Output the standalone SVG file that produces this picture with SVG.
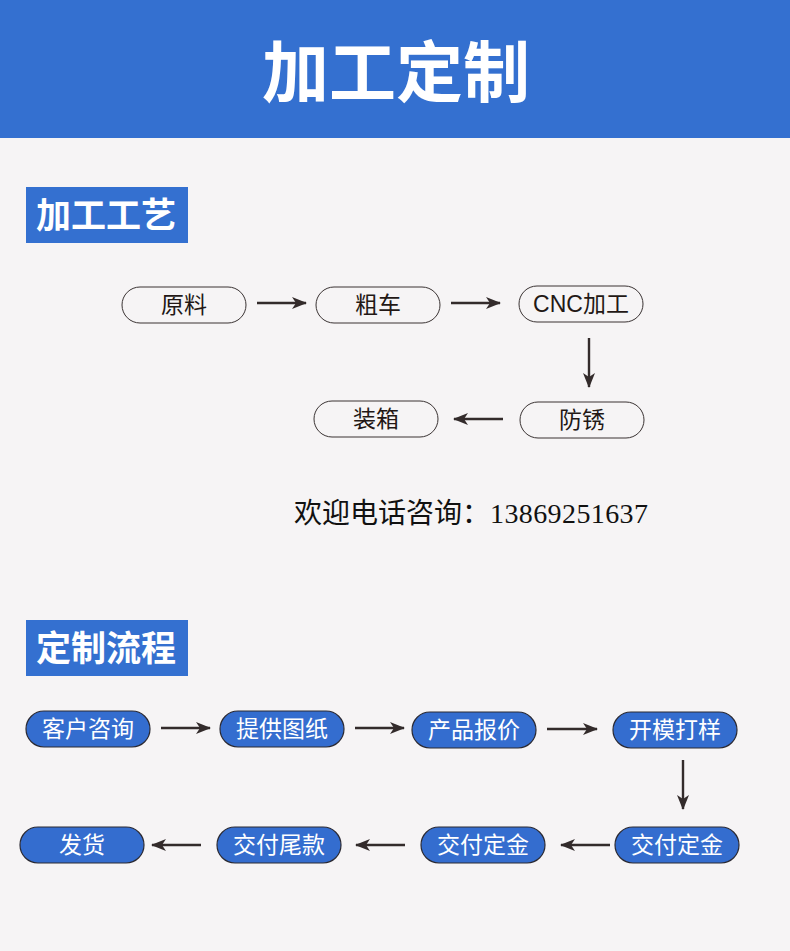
<svg xmlns="http://www.w3.org/2000/svg" width="790" height="951" viewBox="0 0 790 951">
<style>
.bg{fill:#f6f4f5}
.blue{fill:#3470d0}
.pill{fill:#f6f4f5;stroke:#3a3333;stroke-width:1}
.bpill{fill:#346dcf;stroke:#2b2a33;stroke-width:1.2}
.t{font-family:"Liberation Sans","Noto Sans CJK SC",sans-serif;font-size:23px;fill:#231815;text-anchor:middle}
.bt{font-family:"Noto Sans CJK SC","Liberation Sans",sans-serif;font-size:23px;fill:#ffffff;text-anchor:middle}
.h{font-family:"Noto Sans CJK SC",sans-serif;font-weight:bold;fill:#ffffff}
.c{stroke:#332b2b;stroke-width:2.4;fill:none;marker-end:url(#ah)}
</style>
<defs>
<marker id="ah" markerWidth="16" markerHeight="12" refX="14" refY="6" orient="auto" markerUnits="userSpaceOnUse">
<path d="M0,0 L15,6 L0,12 L4,6 Z" fill="#332b2b"/>
</marker>
</defs>
<rect class="bg" x="0" y="0" width="790" height="951"/>
<g id="header">
<rect class="blue" x="0" y="0" width="790" height="138"/>
<text class="h" x="396" y="97" font-size="67" text-anchor="middle">加工定制</text>
</g>
<g id="section1">
<rect class="blue" x="26" y="187" width="162" height="56"/>
<text class="h" x="106" y="228" font-size="35" text-anchor="middle">加工工艺</text>
</g>
<g id="section2">
<rect class="blue" x="26" y="620" width="162" height="56"/>
<text class="h" x="106" y="661" font-size="35" text-anchor="middle">定制流程</text>
</g>
<g id="n-yuanliao"><rect class="pill" x="122" y="287" width="124" height="36" rx="18"/><text class="t" x="184" y="313">原料</text></g>
<g id="n-cuche"><rect class="pill" x="316" y="287" width="124" height="36" rx="18"/><text class="t" x="378" y="313">粗车</text></g>
<g id="n-cnc"><rect class="pill" x="519" y="286" width="124" height="36" rx="18"/><text class="t" x="581" y="312">CNC加工</text></g>
<g id="n-fangxiu"><rect class="pill" x="520" y="402" width="124" height="36" rx="18"/><text class="t" x="582" y="428">防锈</text></g>
<g id="n-zhuangxiang"><rect class="pill" x="314" y="401" width="124" height="36" rx="18"/><text class="t" x="376" y="427">装箱</text></g>
<g id="phone"><text x="294" y="523" font-family="'Liberation Serif','Noto Sans CJK SC',serif" font-size="28" fill="#111">欢迎电话咨询：<tspan letter-spacing="0.4">13869251637</tspan></text></g>
<g id="n-kehu"><rect class="bpill" x="26" y="711" width="124" height="36" rx="18"/><text class="bt" x="88" y="737">客户咨询</text></g>
<g id="n-tigong"><rect class="bpill" x="220" y="711" width="124" height="36" rx="18"/><text class="bt" x="282" y="737">提供图纸</text></g>
<g id="n-baojia"><rect class="bpill" x="412" y="712" width="124" height="36" rx="18"/><text class="bt" x="474" y="738">产品报价</text></g>
<g id="n-kaimo"><rect class="bpill" x="613" y="712" width="124" height="36" rx="18"/><text class="bt" x="675" y="738">开模打样</text></g>
<g id="n-dingjin2"><rect class="bpill" x="615" y="827" width="124" height="36" rx="18"/><text class="bt" x="677" y="853">交付定金</text></g>
<g id="n-dingjin1"><rect class="bpill" x="421" y="827" width="124" height="36" rx="18"/><text class="bt" x="483" y="853">交付定金</text></g>
<g id="n-weikuan"><rect class="bpill" x="217" y="827" width="124" height="36" rx="18"/><text class="bt" x="279" y="853">交付尾款</text></g>
<g id="n-fahuo"><rect class="bpill" x="20" y="827" width="124" height="36" rx="18"/><text class="bt" x="82" y="853">发货</text></g>
<g id="connectors">
<line class="c" x1="257" y1="303" x2="306" y2="303"/>
<line class="c" x1="451" y1="303" x2="500" y2="303"/>
<line class="c" x1="589" y1="338" x2="589" y2="387"/>
<line class="c" x1="503" y1="419" x2="454" y2="419"/>
<line class="c" x1="161" y1="728" x2="210" y2="728"/>
<line class="c" x1="355" y1="728" x2="404" y2="728"/>
<line class="c" x1="547" y1="729" x2="597" y2="729"/>
<line class="c" x1="683" y1="760" x2="683" y2="809"/>
<line class="c" x1="610" y1="845" x2="561" y2="845"/>
<line class="c" x1="405" y1="845" x2="356" y2="845"/>
<line class="c" x1="201" y1="845" x2="152" y2="845"/>
</g>
</svg>
